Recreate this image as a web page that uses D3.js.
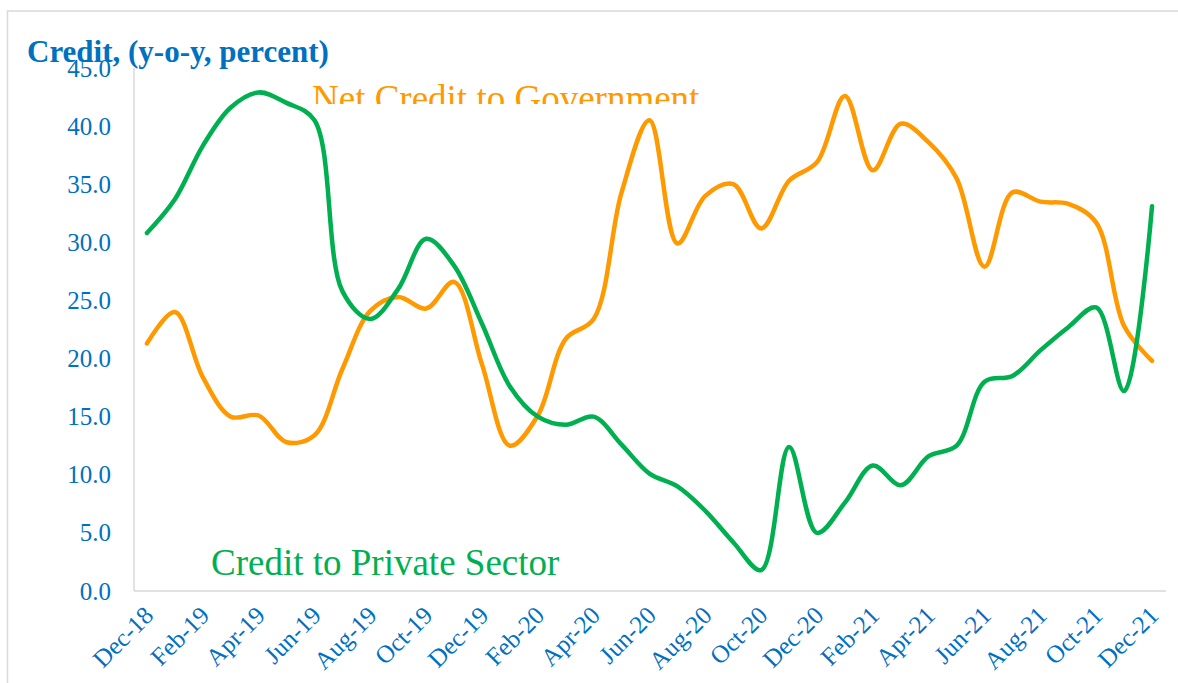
<!DOCTYPE html>
<html>
<head>
<meta charset="utf-8">
<script src="https://cdn.jsdelivr.net/npm/d3@7"></script>
<style>
  body { margin: 0; background: #fff; }
  svg { display: block; font-family: "Liberation Serif", "Times New Roman", serif; }
</style>
</head>
<body>
<div id="chart"></div>
<script>
var width = 1178,
  height = 683;

// monthly observations, Dec-18 .. Dec-21
var months = ["Dec-18", "Jan-19", "Feb-19", "Mar-19", "Apr-19", "May-19", "Jun-19", "Jul-19", "Aug-19", "Sep-19",
  "Oct-19", "Nov-19", "Dec-19", "Jan-20", "Feb-20", "Mar-20", "Apr-20", "May-20", "Jun-20", "Jul-20",
  "Aug-20", "Sep-20", "Oct-20", "Nov-20", "Dec-20", "Jan-21", "Feb-21", "Mar-21", "Apr-21", "May-21",
  "Jun-21", "Jul-21", "Aug-21", "Sep-21", "Oct-21", "Nov-21", "Dec-21"];

var privateCredit = [30.8, 33.7, 38.3, 41.6, 42.9, 42.0, 40.5, 25.8, 23.4, 26.0,
  30.3, 28.0, 23.0, 17.6, 15.0, 14.3, 15.0, 12.6, 10.1, 9.0,
  6.9, 4.2, 1.8, 12.4, 5.0, 7.6, 10.8, 9.1, 11.6, 12.5,
  18.0, 18.5, 20.7, 22.7, 24.4, 17.2, 33.1];

var govCredit = [21.3, 24.0, 18.4, 15.0, 15.1, 12.8, 13.4, 19.1, 24.1, 25.3,
  24.3, 26.6, 19.5, 12.5, 15.1, 21.7, 23.4, 34.3, 40.5, 29.9,
  34.0, 35.0, 31.2, 35.3, 36.9, 42.6, 36.2, 40.2, 38.6, 35.5,
  27.9, 34.3, 33.5, 33.3, 31.7, 22.8, 19.8];

var yTicks = [0, 5, 10, 15, 20, 25, 30, 35, 40, 45];

var blue = "#0070C0",
  green = "#00B050",
  orange = "#FF9900",
  axisGrey = "#D9D9D9";

var svg = d3.select("#chart")
  .append("svg")
  .attr("width", width)
  .attr("height", height);

// outer chart frame
svg.append("rect")
  .attr("x", 7.5).attr("y", 11)
  .attr("width", 1200).attr("height", 700)
  .attr("fill", "none")
  .attr("stroke", axisGrey)
  .attr("stroke-width", 1.5);

var x = d3.scaleBand()
  .domain(months)
  .range([133, 1166]);

var y = d3.scaleLinear()
  .domain([0, 45])
  .range([591, 68]);

function cx(d) { return x(d) + x.bandwidth() / 2; }

// axes lines
svg.append("line")
  .attr("x1", 134).attr("x2", 134)
  .attr("y1", y(45)).attr("y2", y(0))
  .attr("stroke", axisGrey).attr("stroke-width", 1.5);
svg.append("line")
  .attr("x1", 134).attr("x2", 1166)
  .attr("y1", y(0)).attr("y2", y(0))
  .attr("stroke", axisGrey).attr("stroke-width", 1.5);

// y tick labels
svg.selectAll(".ytick")
  .data(yTicks)
  .enter().append("text")
  .attr("class", "ytick")
  .attr("x", 111)
  .attr("y", function (d) { return y(d); })
  .attr("dy", "0.34em")
  .attr("text-anchor", "end")
  .attr("fill", blue)
  .style("font-size", "25px")
  .text(function (d) { return d.toFixed(1); });

// x tick labels, every second month
svg.selectAll(".xtick")
  .data(months.filter(function (d, i) { return i % 2 === 0; }))
  .enter().append("text")
  .attr("class", "xtick")
  .attr("text-anchor", "end")
  .attr("transform", function (d) {
    return "translate(" + (cx(d) + 8) + "," + 617 + ") rotate(-45)";
  })
  .attr("fill", blue)
  .style("font-size", "25px")
  .text(function (d) { return d; });

// title
svg.append("text")
  .attr("x", 27)
  .attr("y", 62)
  .attr("fill", blue)
  .style("font-size", "31px")
  .style("font-weight", "bold")
  .text("Credit, (y-o-y, percent)");

var line = d3.line()
  .x(function (d) { return cx(d.m); })
  .y(function (d) { return y(d.v); })
  .curve(d3.curveCatmullRom.alpha(0.5));

function series(vals) {
  return vals.map(function (v, i) { return { m: months[i], v: v }; });
}

svg.append("path")
  .datum(series(govCredit))
  .attr("d", line)
  .attr("fill", "none")
  .attr("stroke", orange)
  .attr("stroke-width", 4.5)
  .attr("stroke-linecap", "round");

svg.append("path")
  .datum(series(privateCredit))
  .attr("d", line)
  .attr("fill", "none")
  .attr("stroke", green)
  .attr("stroke-width", 4.5)
  .attr("stroke-linecap", "round");

// series labels (the government one is cut off by its text box)
svg.append("clipPath")
  .attr("id", "govclip")
  .append("rect")
  .attr("x", 290).attr("y", 70)
  .attr("width", 450).attr("height", 34);

svg.append("text")
  .attr("x", 312)
  .attr("y", 111)
  .attr("clip-path", "url(#govclip)")
  .attr("fill", orange)
  .style("font-size", "37px")
  .text("Net Credit to Government");

svg.append("text")
  .attr("x", 211)
  .attr("y", 575)
  .attr("fill", green)
  .style("font-size", "37px")
  .text("Credit to Private Sector");
</script>
</body>
</html>
